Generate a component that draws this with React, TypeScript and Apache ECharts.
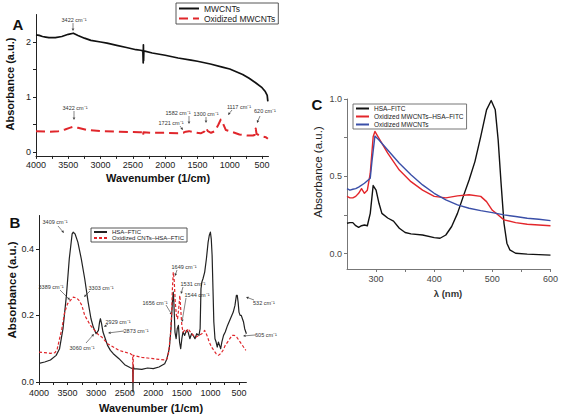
import React, { useEffect, useRef } from "react";
import * as echarts from "echarts";

const FONT = "'Liberation Sans', Arial, Helvetica, sans-serif";

// ---------- Panel A : FTIR of MWCNTs ----------
const aWnTicks = [4000, 3750, 3500, 3250, 3000, 2750, 2500, 2250, 2000, 1750, 1500, 1250, 1000, 750, 500];
const aWnLabels = [4000, 3500, 3000, 2500, 2000, 1500, 1000, 500];
const aAbsTicks = [0, 0.5, 1, 1.5, 2];
const aAbsLabels = [0, 1, 2];
const aMWCNTs: [number, number][] = [
  [4000, 2.13], [3950, 2.12], [3900, 2.1], [3850, 2.09], [3800, 2.08], [3700, 2.08], [3600, 2.1],
  [3500, 2.14], [3422, 2.16], [3350, 2.12], [3250, 2.07], [3150, 2.03], [3000, 2.0], [2900, 1.98],
  [2750, 1.94], [2600, 1.9], [2450, 1.86], [2380, 1.85], [2345, 1.84], [2340, 1.62], [2337, 1.95],
  [2334, 1.66], [2330, 1.84], [2200, 1.8], [2000, 1.76], [1800, 1.71], [1600, 1.67], [1500, 1.65],
  [1300, 1.6], [1100, 1.54], [1000, 1.51], [900, 1.46], [800, 1.41], [700, 1.34], [600, 1.26],
  [500, 1.17], [450, 1.1], [420, 1.03], [410, 0.92],
];
const aOxidized: [number, number][] = [
  [4000, 0.38], [3800, 0.37], [3650, 0.38], [3550, 0.41], [3480, 0.44], [3422, 0.46], [3350, 0.44],
  [3200, 0.4], [3000, 0.38], [2700, 0.37], [2400, 0.36], [2350, 0.36], [2343, 0.3], [2336, 0.36],
  [2200, 0.35], [2000, 0.35], [1800, 0.34], [1721, 0.35], [1680, 0.37], [1630, 0.38], [1550, 0.36],
  [1450, 0.34], [1395, 0.37], [1367, 0.44], [1340, 0.38], [1290, 0.35], [1230, 0.38], [1175, 0.5],
  [1140, 0.59], [1105, 0.52], [1060, 0.4], [950, 0.36], [850, 0.32], [720, 0.3], [640, 0.3],
  [615, 0.31], [598, 0.43], [585, 0.33], [540, 0.3], [480, 0.28], [440, 0.27], [410, 0.24],
];

// ---------- Panel B : FTIR of HSA-FTIC ----------
const bWnTicks = [4000, 3750, 3500, 3250, 3000, 2750, 2500, 2250, 2000, 1750, 1500, 1250, 1000, 750, 500];
const bWnLabels = [4000, 3500, 3000, 2500, 2000, 1500, 1000, 500];
const bAbsLabels = [0, 0.2, 0.4];
const bHSA: [number, number][] = [
  [4000, 0.056], [3900, 0.06], [3800, 0.066], [3700, 0.08], [3640, 0.1], [3580, 0.16], [3520, 0.26],
  [3470, 0.37], [3420, 0.445], [3400, 0.45], [3370, 0.445], [3320, 0.42], [3260, 0.37], [3200, 0.31],
  [3140, 0.24], [3090, 0.19], [3050, 0.165], [3000, 0.145], [2960, 0.155], [2940, 0.18], [2925, 0.19],
  [2905, 0.175], [2880, 0.15], [2850, 0.135], [2800, 0.11], [2750, 0.095], [2700, 0.085], [2600, 0.07],
  [2500, 0.052], [2400, 0.043], [2360, 0.04], [2355, -0.03], [2350, 0.05], [2340, 0.04], [2200, 0.038],
  [2100, 0.042], [2000, 0.04], [1900, 0.045], [1800, 0.055], [1760, 0.07], [1720, 0.1], [1690, 0.16],
  [1665, 0.24], [1650, 0.27], [1640, 0.24], [1620, 0.15], [1600, 0.13], [1580, 0.16], [1560, 0.17],
  [1540, 0.12], [1520, 0.1], [1500, 0.13], [1480, 0.15], [1450, 0.14], [1420, 0.155], [1390, 0.15],
  [1360, 0.13], [1330, 0.145], [1300, 0.14], [1270, 0.13], [1240, 0.145], [1200, 0.14], [1180, 0.16],
  [1165, 0.28], [1150, 0.3], [1130, 0.31], [1100, 0.33], [1070, 0.37], [1040, 0.42], [1020, 0.44],
  [1000, 0.45], [985, 0.43], [970, 0.38], [955, 0.28], [940, 0.18], [920, 0.13], [900, 0.12],
  [880, 0.105], [860, 0.12], [840, 0.11], [820, 0.1], [800, 0.12], [770, 0.14], [740, 0.15],
  [700, 0.17], [650, 0.19], [600, 0.21], [570, 0.23], [545, 0.26], [530, 0.26], [515, 0.24],
  [500, 0.21], [480, 0.2], [460, 0.2], [440, 0.19], [420, 0.18], [400, 0.16], [370, 0.145],
];
const bOxHSA: [number, number][] = [
  [4000, 0.09], [3900, 0.088], [3800, 0.086], [3720, 0.088], [3680, 0.1], [3640, 0.13], [3600, 0.16],
  [3550, 0.21], [3500, 0.235], [3450, 0.245], [3400, 0.255], [3340, 0.252], [3300, 0.245], [3250, 0.23],
  [3200, 0.2], [3150, 0.185], [3100, 0.17], [3050, 0.16], [3000, 0.15], [2950, 0.14], [2900, 0.135],
  [2850, 0.125], [2800, 0.115], [2700, 0.105], [2600, 0.095], [2500, 0.09], [2400, 0.085], [2360, 0.08],
  [2355, 0.0], [2350, 0.08], [2300, 0.078], [2200, 0.074], [2100, 0.072], [2000, 0.07], [1900, 0.068],
  [1800, 0.066], [1760, 0.07], [1730, 0.09], [1700, 0.14], [1680, 0.2], [1665, 0.28], [1650, 0.33],
  [1635, 0.31], [1615, 0.24], [1595, 0.2], [1575, 0.19], [1555, 0.22], [1535, 0.26], [1520, 0.22],
  [1500, 0.17], [1480, 0.15], [1450, 0.155], [1420, 0.15], [1390, 0.16], [1350, 0.15], [1300, 0.14],
  [1250, 0.135], [1200, 0.14], [1150, 0.145], [1100, 0.155], [1060, 0.14], [1020, 0.12], [980, 0.105],
  [940, 0.095], [900, 0.085], [860, 0.08], [820, 0.085], [780, 0.095], [740, 0.11], [700, 0.12],
  [660, 0.13], [620, 0.14], [580, 0.14], [540, 0.135], [500, 0.125], [460, 0.115], [420, 0.105], [380, 0.095],
];

// ---------- Panel C : UV-vis ----------
const cNmTicks = [300, 350, 400, 450, 500, 550, 600];
const cNmLabels = [300, 400, 500, 600];
const cAbsTicks = [0, 0.25, 0.5, 0.75, 1];
const cAbsLabels = [0, 0.5, 1];
const cHSA: [number, number][] = [
  [250, 0.196], [255, 0.2], [260, 0.2], [265, 0.18], [270, 0.17], [275, 0.18], [280, 0.185], [285, 0.18],
  [290, 0.26], [295, 0.44], [300, 0.41], [305, 0.325], [310, 0.26], [320, 0.23], [330, 0.21], [340, 0.164],
  [350, 0.136], [360, 0.127], [380, 0.12], [400, 0.103], [410, 0.099], [420, 0.12], [430, 0.175],
  [440, 0.26], [450, 0.37], [460, 0.476], [470, 0.595], [480, 0.756], [490, 0.93], [498, 0.99],
  [505, 0.93], [510, 0.735], [515, 0.455], [520, 0.196], [525, 0.067], [530, 0.024], [540, 0.002],
  [560, -0.004], [600, -0.01],
];
const cOxHSA: [number, number][] = [
  [250, 0.37], [255, 0.36], [260, 0.36], [265, 0.37], [270, 0.39], [275, 0.42], [280, 0.39], [285, 0.41],
  [290, 0.52], [295, 0.756], [298, 0.79], [305, 0.745], [320, 0.65], [340, 0.54], [360, 0.465],
  [380, 0.41], [400, 0.37], [420, 0.36], [440, 0.373], [460, 0.38], [480, 0.37], [490, 0.336],
  [500, 0.28], [510, 0.25], [520, 0.218], [540, 0.2], [560, 0.19], [580, 0.185], [600, 0.18],
];
const cOx: [number, number][] = [
  [250, 0.42], [255, 0.41], [260, 0.416], [265, 0.42], [270, 0.43], [280, 0.455], [290, 0.487],
  [293, 0.6], [298, 0.76], [305, 0.735], [320, 0.67], [340, 0.584], [360, 0.51], [380, 0.444],
  [400, 0.39], [420, 0.347], [440, 0.315], [460, 0.293], [480, 0.278], [500, 0.265], [520, 0.25],
  [540, 0.24], [560, 0.228], [580, 0.222], [600, 0.213],
];

// ---------- annotations (text, text centre, arrow from, arrow to) ----------
type Note = { t: string; x: number; y: number; f: [number, number]; to: [number, number] };
const notes: Note[] = [
  { t: "3422 cm⁻¹", x: 74, y: 20, f: [73, 23], to: [73, 31] },
  { t: "3422 cm⁻¹", x: 75, y: 108, f: [74, 111], to: [74, 120] },
  { t: "1582 cm⁻¹", x: 178, y: 113, f: [189, 116], to: [189, 124] },
  { t: "1721 cm⁻¹", x: 171, y: 123, f: [180, 126], to: [183, 130] },
  { t: "1300 cm⁻¹", x: 206, y: 114, f: [206, 117], to: [206, 123] },
  { t: "1117 cm⁻¹", x: 239, y: 107, f: [232, 110], to: [228, 115] },
  { t: "620 cm⁻¹", x: 265, y: 111, f: [260, 116], to: [257, 123] },
  { t: "3409 cm⁻¹", x: 55, y: 222, f: [58, 226], to: [64, 233] },
  { t: "3389 cm⁻¹", x: 51, y: 287, f: [60, 290], to: [70, 300] },
  { t: "3303 cm⁻¹", x: 101, y: 288, f: [90, 291], to: [84, 297] },
  { t: "2929 cm⁻¹", x: 118, y: 322, f: [108, 324], to: [104, 327] },
  { t: "2873 cm⁻¹", x: 136, y: 331, f: [124, 331], to: [108, 333] },
  { t: "3060 cm⁻¹", x: 82, y: 348, f: [86, 343], to: [94, 334] },
  { t: "1649 cm⁻¹", x: 184, y: 267, f: [177, 270], to: [175, 276] },
  { t: "1531 cm⁻¹", x: 193, y: 284, f: [183, 287], to: [181, 294] },
  { t: "1544 cm⁻¹", x: 197, y: 295, f: [186, 298], to: [182, 322] },
  { t: "1656 cm⁻¹", x: 155, y: 303, f: [166, 305], to: [172, 315] },
  { t: "532 cm⁻¹", x: 264, y: 303, f: [254, 300], to: [246, 297] },
  { t: "605 cm⁻¹", x: 266, y: 335, f: [255, 335], to: [243, 336] },
];

function arrowEls(n: Note) {
  const [x1, y1] = n.f;
  const [x2, y2] = n.to;
  const a = Math.atan2(y2 - y1, x2 - x1);
  const L = 2.6, W = 1.3;
  const bx = x2 - L * Math.cos(a), by = y2 - L * Math.sin(a);
  return [
    { type: "line", shape: { x1, y1, x2: bx, y2: by }, style: { stroke: "#333", lineWidth: 0.6 }, silent: true },
    {
      type: "polygon",
      shape: { points: [[x2, y2], [bx - W * Math.sin(a), by + W * Math.cos(a)], [bx + W * Math.sin(a), by - W * Math.cos(a)]] },
      style: { fill: "#333" },
      silent: true,
    },
  ];
}

function txt(text: string, x: number, y: number, size: number, bold: boolean, rot = 0, color = "#111") {
  return {
    type: "text",
    x,
    y,
    rotation: rot,
    silent: true,
    style: {
      text,
      fontSize: size,
      fontWeight: bold ? "bold" : "normal",
      fontFamily: FONT,
      fill: color,
      align: "center",
      verticalAlign: "middle",
      textAlign: "center",
      textVerticalAlign: "middle",
    },
  };
}

function xAxis(grid: number, min: number, max: number, ticks: number[], labels: number[], inverse: boolean, color: string, labelColor: string, margin: number) {
  return {
    type: "value",
    gridIndex: grid,
    min,
    max,
    inverse,
    position: "bottom",
    axisLine: { show: true, onZero: false, lineStyle: { color, width: 1 } },
    axisTick: { show: true, customValues: ticks, length: 3, lineStyle: { color } },
    axisLabel: {
      customValues: labels,
      fontSize: 9,
      margin,
      color: labelColor,
      fontFamily: FONT,
      formatter: (v: number) => String(v),
    },
    splitLine: { show: false },
  };
}

function yAxis(grid: number, min: number, max: number, ticks: number[], labels: number[], color: string, labelColor: string, digits: number, margin: number) {
  return {
    type: "value",
    gridIndex: grid,
    min,
    max,
    axisLine: { show: true, onZero: false, lineStyle: { color, width: 1 } },
    axisTick: { show: true, customValues: ticks, length: 3, lineStyle: { color } },
    axisLabel: {
      customValues: labels,
      fontSize: 9,
      margin,
      color: labelColor,
      fontFamily: FONT,
      formatter: (v: number) => v.toFixed(digits),
    },
    splitLine: { show: false },
  };
}

function line(name: string, xi: number, data: [number, number][], color: string, width: number, dash?: number[]) {
  return {
    type: "line",
    name,
    xAxisIndex: xi,
    yAxisIndex: xi,
    data,
    symbol: "none",
    showSymbol: false,
    clip: false,
    lineStyle: { color, width, type: dash ? dash : "solid", join: "round", cap: "butt" },
    itemStyle: { color },
  };
}

function legend(names: string[], left: number, top: number, itemWidth: number, itemHeight: number, gap: number, fontSize: number, border: string) {
  return {
    data: names,
    left,
    top,
    orient: "vertical",
    itemWidth,
    itemHeight,
    itemGap: gap,
    padding: [1, 3, 1, 2],
    borderColor: border,
    borderWidth: 0.9,
    selectedMode: false,
    itemStyle: { opacity: 0, borderWidth: 0 },
    textStyle: { fontSize, color: "#222", fontFamily: FONT },
  };
}

export default function App() {
  const ref = useRef<HTMLDivElement>(null);
  useEffect(() => {
    if (!ref.current) return;
    const chart = echarts.init(ref.current, undefined, { renderer: "svg" });
    const graphics: any[] = [
      txt("A", 18, 24, 15, true),
      txt("B", 15, 222, 15, true),
      txt("C", 317, 104, 15, true),
      txt("Absorbance (a.u.)", 10, 84, 11, true, Math.PI / 2),
      txt("Absorbance (a.u.)", 12, 290, 11.5, true, Math.PI / 2),
      txt("Absorbance (a.u.)", 318, 172, 11.5, false, Math.PI / 2, "#222"),
      txt("Wavenumber (1/cm)", 158, 178, 11, true),
      txt("Wavenumber (1/cm)", 151, 408, 11, true),
      txt("λ (nm)", 448, 293, 9.5, true, 0, "#333"),
    ];
    notes.forEach((n) => {
      graphics.push(txt(n.t, n.x, n.y, 5.5, false, 0, "#333"));
      graphics.push(...arrowEls(n));
    });
    chart.setOption({
      animation: false,
      backgroundColor: "#fff",
      textStyle: { fontFamily: FONT },
      grid: [
        { left: 36, top: 14.5, width: 232.5, height: 141.4 },
        { left: 39, top: 215.5, width: 207.4, height: 166.5 },
        { left: 347, top: 99, width: 204, height: 170 },
      ],
      xAxis: [
        xAxis(0, 400, 4000, aWnTicks, aWnLabels, true, "#222", "#222", 5),
        xAxis(1, 370, 4000, bWnTicks, bWnLabels, true, "#222", "#222", 6),
        xAxis(2, 250, 600, cNmTicks, cNmLabels, false, "#777", "#444", 5),
      ],
      yAxis: [
        yAxis(0, -0.07, 2.5, aAbsTicks, aAbsLabels, "#222", "#222", 0, 5),
        yAxis(1, 0, 0.5, bAbsLabels, bAbsLabels, "#222", "#222", 1, 5),
        yAxis(2, -0.1, 1, cAbsTicks, cAbsLabels, "#777", "#444", 1, 5),
      ],
      legend: [
        legend(["MWCNTs", "Oxidized MWCNTs"], 176, 3, 20, 8, 1, 8.5, "#444"),
        legend(["HSA–FTIC", "Oxidized CNTs–HSA–FTIC"], 91, 228, 13, 6, 0, 6, "#444"),
        legend(["HSA–FITC", "Oxidized MWCNTs–HSA–FITC", "Oxidized MWCNTs "], 353, 104, 13, 6, 1, 6.5, "#666"),
      ],
      series: [
        line("MWCNTs", 0, aMWCNTs, "#111", 1.7),
        line("Oxidized MWCNTs", 0, aOxidized, "#e0262b", 2, [9, 5]),
        line("HSA–FTIC", 1, bHSA, "#222", 1.2),
        line("Oxidized CNTs–HSA–FTIC", 1, bOxHSA, "#e0262b", 1.2, [3, 2]),
        line("HSA–FITC", 2, cHSA, "#111", 1.4),
        line("Oxidized MWCNTs–HSA–FITC", 2, cOxHSA, "#e3262b", 1.4),
        line("Oxidized MWCNTs ", 2, cOx, "#3a4fa8", 1.4),
      ],
      graphic: graphics,
    });
    return () => chart.dispose();
  }, []);
  return (
    <div
      ref={ref}
      style={{ position: "fixed", left: 0, top: 0, width: 561, height: 417, background: "#fff" }}
    />
  );
}
